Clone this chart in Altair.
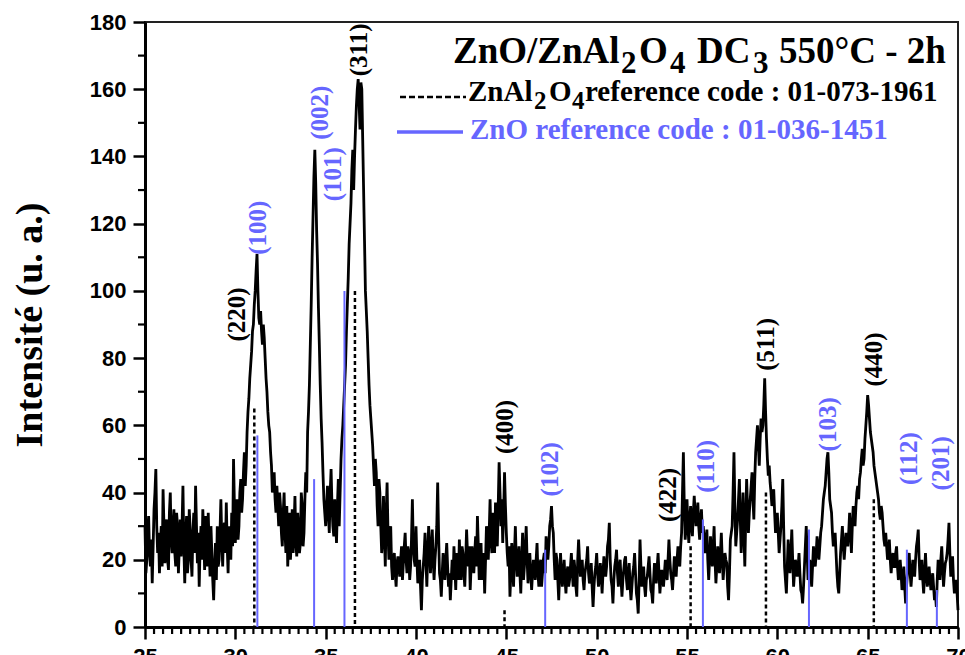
import altair as alt
import pandas as pd

# ---------------- data ----------------
# intensity at 25.0, 25.1, ... 70.0
two_theta_start = 25.0
two_theta_step = 0.1
intensity = [
    30, 20, 33, 18, 13, 35, 47, 22, 16, 30,      # 25.0-25.9
    41, 19, 32, 17, 40, 22, 35, 18, 30, 24,      # 26
    21, 42, 13, 33, 20, 29, 15, 34, 42, 19,      # 27
    12, 30, 35, 17, 28, 34, 15, 22, 8, 25,       # 28
    30, 20, 38, 18, 31, 37, 16, 28, 34, 50,      # 29
    25, 38, 30, 44, 38, 52, 48, 64, 74, 82,      # 30
    90, 100, 111, 92, 94, 84, 86, 74, 64, 58,    # 31
    48, 44, 38, 42, 30, 36, 24, 40, 22, 18,      # 32
    34, 26, 22, 39, 21, 30, 25, 36, 28, 46,      # 33
    58, 72, 96, 122, 142, 118, 95, 72, 55, 38,   # 34
    30, 42, 28, 47, 30, 38, 25, 44, 40, 56,      # 35
    66, 78, 96, 114, 126, 142, 140, 155, 163, 148,  # 36
    160, 130, 100, 88, 72, 62, 54, 42, 46, 30,   # 37
    40, 22, 39, 18, 43, 20, 30, 14, 22, 12,      # 38
    21, 15, 24, 19, 28, 16, 22, 18, 38, 20,      # 39
    30, 13, 20, 5, 18, 28, 12, 30, 16, 29,       # 40
    14, 24, 43, 16, 9, 22, 14, 25, 12, 8,        # 41
    20, 24, 11, 19, 26, 14, 22, 12, 29, 18,      # 42
    11, 24, 16, 27, 33, 14, 25, 17, 10, 30,      # 43
    20, 38, 22, 28, 37, 24, 49, 30, 25, 46,      # 44
    28, 18, 9, 25, 12, 30, 15, 24, 10, 28,       # 45
    18, 30, 13, 22, 11, 20, 14, 25, 12, 20,      # 46
    16, 22, 27, 20, 30, 36, 28, 14, 20, 8,       # 47
    22, 12, 20, 10, 18, 14, 22, 12, 17, 9,       # 48
    26, 15, 20, 11, 18, 24, 13, 19, 6, 16,       # 49
    22, 12, 19, 10, 21, 15, 24, 31, 14, 7,       # 50
    18, 23, 12, 20, 9, 17, 21, 11, 19, 8,        # 51
    16, 22, 10, 4, 26, 12, 18, 9, 15, 21,        # 52
    11, 7, 19, 13, 22, 10, 17, 12, 20, 14,       # 53
    26, 16, 11, 21, 15, 24, 18, 28, 52, 26,      # 54
    38, 25, 36, 27, 39, 30, 37, 26, 35, 30,      # 55
    22, 29, 14, 27, 18, 30, 13, 24, 16, 28,      # 56
    14, 22, 19, 8, 26, 30, 52, 24, 32, 44,       # 57
    22, 40, 18, 44, 28, 38, 46, 32, 52, 60,      # 58
    48, 62, 60, 74, 56, 45, 43, 36, 41, 28,      # 59
    34, 22, 30, 44, 18, 10, 26, 16, 29, 12,      # 60
    20, 15, 22, 11, 7, 18, 30, 14, 20, 12,       # 61
    24, 18, 27, 20, 28, 34, 40, 46, 52, 38,      # 62
    34, 24, 28, 16, 10, 22, 30, 20, 28, 24,      # 63
    34, 22, 36, 30, 40, 38, 46, 53, 50, 60,      # 64
    69, 62, 56, 52, 46, 42, 38, 32, 34, 26,      # 65
    28, 20, 26, 16, 22, 18, 24, 14, 20, 11,      # 66
    18, 7, 16, 22, 12, 20, 15, 24, 29, 14,       # 67
    20, 10, 22, 12, 18, 11, 16, 8, 6, 20,        # 68
    14, 24, 12, 19, 22, 31, 15, 21, 10, 14,      # 69
    5,                                           # 70.0
]
# intensity at the in-between steps 25.05, 25.15, ... 69.95
mid_start = 25.05
intensity_mid = [
    16, 28, 22, 26, 24, 40, 30, 28, 24, 18,      # 25
    30, 27, 20, 34, 26, 30, 22, 34, 16, 32,      # 26
    30, 24, 26, 16, 35, 20, 28, 22, 30, 28,      # 27
    24, 20, 28, 33, 18, 24, 30, 14, 18, 14,      # 28
    18, 28, 26, 30, 22, 24, 30, 20, 24, 36,      # 29
    34, 26, 40, 34, 46, 42, 58, 68, 78, 88,      # 30
    96, 106, 100, 90, 88, 90, 80, 70, 60, 52,    # 31
    40, 46, 34, 36, 40, 28, 34, 28, 36, 26,      # 32
    20, 35, 30, 25, 34, 22, 40, 24, 38, 40,      # 33
    64, 84, 110, 134, 132, 108, 84, 62, 46, 34,  # 34
    36, 34, 40, 36, 27, 32, 36, 30, 50, 60,      # 35
    72, 88, 104, 120, 136, 130, 148, 160, 156, 162,  # 36
    145, 115, 94, 80, 66, 58, 48, 50, 36, 44,    # 37
    30, 26, 28, 34, 28, 24, 18, 20, 16, 19,      # 38
    18, 20, 14, 24, 20, 24, 14, 26, 24, 18,      # 39
    20, 16, 12, 14, 22, 20, 22, 24, 22, 20,      # 40
    20, 30, 28, 14, 16, 18, 20, 18, 16, 14,      # 41
    14, 18, 22, 14, 18, 24, 16, 20, 22, 24,      # 42
    18, 20, 22, 18, 24, 20, 14, 22, 20, 26,      # 43
    28, 26, 34, 22, 30, 36, 40, 38, 34, 36,      # 44
    22, 24, 16, 18, 22, 20, 19, 16, 20, 14,      # 45
    24, 20, 18, 16, 16, 18, 20, 16, 18, 12,      # 46
    20, 16, 24, 24, 32, 30, 20, 22, 14, 16,      # 47
    16, 16, 14, 16, 12, 18, 16, 20, 12, 20,      # 48
    20, 18, 14, 16, 20, 16, 14, 12, 12, 18,      # 49
    16, 14, 16, 16, 18, 18, 26, 20, 12, 14,      # 50
    20, 16, 18, 14, 14, 20, 14, 16, 12, 12,      # 51
    18, 16, 8, 14, 18, 14, 12, 14, 18, 16,       # 52
    10, 14, 16, 18, 16, 14, 14, 16, 16, 20,      # 53
    20, 14, 16, 18, 20, 20, 24, 40, 36, 30,      # 54
    30, 32, 30, 34, 34, 33, 30, 32, 28, 26,      # 55
    26, 20, 20, 22, 24, 20, 18, 20, 22, 20,      # 56
    18, 20, 12, 16, 28, 40, 36, 28, 38, 32,      # 57
    30, 28, 32, 36, 34, 42, 38, 44, 56, 54,      # 58
    56, 58, 66, 64, 50, 48, 40, 38, 34, 32,      # 59
    28, 26, 36, 30, 14, 18, 20, 22, 20, 16,      # 60
    18, 18, 16, 10, 12, 24, 22, 16, 16, 18,      # 61
    20, 22, 24, 24, 30, 38, 42, 50, 46, 36,      # 62
    28, 26, 22, 12, 16, 26, 24, 24, 26, 28,      # 63
    28, 30, 32, 36, 42, 44, 50, 48, 56, 64,      # 64
    66, 58, 54, 48, 44, 40, 34, 36, 30, 24,      # 65
    24, 22, 20, 20, 18, 22, 18, 16, 16, 14,      # 66
    12, 12, 20, 16, 16, 18, 20, 26, 20, 16,      # 67
    14, 16, 16, 14, 14, 14, 12, 10, 14, 18,      # 68
    20, 18, 16, 20, 26, 22, 18, 14, 12, 10,      # 69
]
two_theta = [round(two_theta_start + i * two_theta_step, 2) for i in range(len(intensity))]
two_theta_mid = [round(mid_start + i * two_theta_step, 2) for i in range(len(intensity_mid))]

# ZnAl2O4 reference (black dashed)
znal_pos = [31.05, 36.62, 44.9, 55.2, 59.37, 65.34]
znal_height = [65, 100, 5, 24, 40, 38]
znal_labels = ["(220)", "(311)", "(400)", "(422)", "(511)", "(440)"]
znal_label_x = [30.1, 36.84, 44.92, 53.94, 59.37, 65.34]
znal_label_y = [93, 171.7, 59.5, 39.3, 84.1, 79.6]

# ZnO reference (blue solid)
zno_pos = [31.22, 34.36, 36.04, 47.15, 55.88, 61.75, 67.17, 68.83]
zno_height = [57, 44, 100, 23, 32, 29, 23, 11]
zno_labels = ["(100)", "(002)", "(101)", "(102)", "(110)", "(103)", "(112)", "(201)"]
zno_label_x = [31.25, 34.68, 35.38, 47.4, 56.05, 62.8, 67.28, 69.05]
zno_label_y = [118.8, 153, 134.7, 46.9, 47.8, 60.3, 50.1, 48.7]

# axis ticks
x_major = [25, 30, 35, 40, 45, 50, 55, 60, 65, 70]
x_minor = [25 + 0.5 * i for i in range(91) if (25 + 0.5 * i) % 5 != 0]
y_major = [0, 20, 40, 60, 80, 100, 120, 140, 160, 180]
y_minor = [10, 30, 50, 70, 90, 110, 130, 150, 170]

BLUE = "#6666ff"
SERIF = "Liberation Serif"
SANS = "Liberation Sans"

# ---------------- layout ----------------
PLOT_LEFT, PLOT_TOP = 145, 22
PLOT_W, PLOT_H = 813, 605

curve_df = pd.DataFrame({
    "x": two_theta + two_theta_mid,
    "y": intensity + intensity_mid,
}).sort_values("x").reset_index(drop=True)
znal_df = pd.DataFrame({"x": znal_pos, "h": znal_height})
zno_df = pd.DataFrame({"x": zno_pos, "h": zno_height})
znal_lab_df = pd.DataFrame({"x": znal_label_x, "y": znal_label_y, "t": znal_labels})
zno_lab_df = pd.DataFrame({"x": zno_label_x, "y": zno_label_y, "t": zno_labels})
xminor_df = pd.DataFrame({"x": x_minor})
yminor_df = pd.DataFrame({"y": y_minor})

x_scale = alt.Scale(domain=[25, 70], nice=False, zero=False)
y_scale = alt.Scale(domain=[0, 180], nice=False)

x_axis = alt.Axis(
    title="", values=x_major, tickSize=12, labelOverlap=False,
    labelFlush=False, grid=False,
)
y_axis = alt.Axis(
    title="Intensité (u. a.)", values=y_major, tickSize=12, labelOverlap=False,
    labelFlush=False, grid=False,
    titleFont=SERIF, titleFontSize=38, titleFontWeight="bold",
    titleColor="black", titlePadding=40,
)

curve = alt.Chart(curve_df).mark_line(
    color="black", strokeWidth=2.8, strokeJoin="miter", strokeMiterLimit=3
).encode(
    x=alt.X("x:Q", scale=x_scale, axis=x_axis),
    y=alt.Y("y:Q", scale=y_scale, axis=y_axis),
    order="x:Q",
)

x_minor_ticks = alt.Chart(xminor_df).mark_rule(color="black", strokeWidth=2.2).encode(
    x=alt.X("x:Q"), y=alt.value(PLOT_H), y2=alt.value(PLOT_H + 7)
)
y_minor_ticks = alt.Chart(yminor_df).mark_rule(color="black", strokeWidth=2.2).encode(
    y=alt.Y("y:Q"), x=alt.value(0), x2=alt.value(-7)
)

znal_rules = alt.Chart(znal_df).mark_rule(
    color="black", strokeWidth=2.5, strokeDash=[4, 3]
).encode(x=alt.X("x:Q"), y=alt.Y("h:Q"), y2=alt.datum(0))

zno_rules = alt.Chart(zno_df).mark_rule(color=BLUE, strokeWidth=2).encode(
    x=alt.X("x:Q"), y=alt.Y("h:Q"), y2=alt.datum(0)
)

znal_text = alt.Chart(znal_lab_df).mark_text(
    angle=270, font=SERIF, fontSize=25, fontWeight="bold", color="black",
    align="center", baseline="middle",
).encode(x=alt.X("x:Q"), y=alt.Y("y:Q"), text="t:N")

zno_text = alt.Chart(zno_lab_df).mark_text(
    angle=270, font=SERIF, fontSize=25, fontWeight="bold", color=BLUE,
    align="center", baseline="middle",
).encode(x=alt.X("x:Q"), y=alt.Y("y:Q"), text="t:N")


def seg(text, px, py, size, color="black"):
    d = pd.DataFrame({"px": [px - PLOT_LEFT], "py": [py - PLOT_TOP], "t": [text]})
    return alt.Chart(d).mark_text(
        font=SERIF, fontSize=size, fontWeight="bold", color=color,
        align="left", baseline="alphabetic",
    ).encode(
        x=alt.X("px:Q", scale=None, axis=None),
        y=alt.Y("py:Q", scale=None, axis=None),
        text="t:N",
    )


# title "ZnO/ZnAl2O4 DC3 550°C - 2h" (subscripts as lowered text)
title_parts = [
    seg("ZnO/ZnAl", 453, 63, 37),
    seg("2", 621, 73, 31),
    seg("O", 639, 63, 37),
    seg("4", 670, 73, 31),
    seg("DC", 697, 63, 37),
    seg("3", 753, 73, 31),
    seg("550°C - 2h", 779, 63, 37),
]
legend_parts = [
    seg("ZnAl", 468, 101, 29),
    seg("2", 534, 109, 25),
    seg("O", 549, 101, 29),
    seg("4", 572, 109, 25),
    seg("reference code : 01-073-1961", 585, 101, 29),
    seg("ZnO reference code : 01-036-1451", 470, 139, 29, BLUE),
]

legend_line_df = pd.DataFrame({
    "x1": [400 - PLOT_LEFT, 397 - PLOT_LEFT],
    "x2": [466 - PLOT_LEFT, 463 - PLOT_LEFT],
    "yy": [97 - PLOT_TOP, 132 - PLOT_TOP],
    "kind": ["dash", "solid"],
})
legend_dash = alt.Chart(legend_line_df).transform_filter(
    "datum.kind === 'dash'"
).mark_rule(color="black", strokeWidth=2.5, strokeDash=[6, 3]).encode(
    x=alt.X("x1:Q", scale=None, axis=None), x2="x2:Q",
    y=alt.Y("yy:Q", scale=None, axis=None),
)
legend_solid = alt.Chart(legend_line_df).transform_filter(
    "datum.kind === 'solid'"
).mark_rule(color=BLUE, strokeWidth=3.5).encode(
    x=alt.X("x1:Q", scale=None, axis=None), x2="x2:Q",
    y=alt.Y("yy:Q", scale=None, axis=None),
)

main = alt.layer(curve, x_minor_ticks, y_minor_ticks, znal_rules, zno_rules,
                 znal_text, zno_text)
overlay = alt.layer(legend_dash, legend_solid, *title_parts, *legend_parts)

chart = alt.layer(main, overlay).resolve_scale(
    x="independent", y="independent"
).resolve_axis(
    x="independent", y="independent"
).properties(
    width=PLOT_W,
    height=PLOT_H,
    padding={"left": PLOT_LEFT, "top": PLOT_TOP, "right": 7, "bottom": 50},
    autosize=alt.AutoSizeParams(type="none"),
).configure_view(
    stroke="#222222", strokeWidth=2
).configure_axis(
    domainColor="black", domainWidth=3, tickColor="black", tickWidth=2.5,
    labelFont=SANS, labelFontSize=22, labelFontWeight="bold", labelColor="black",
    labelPadding=7,
)

chart.save("out.html", embed_options={"renderer": "svg", "actions": False})
